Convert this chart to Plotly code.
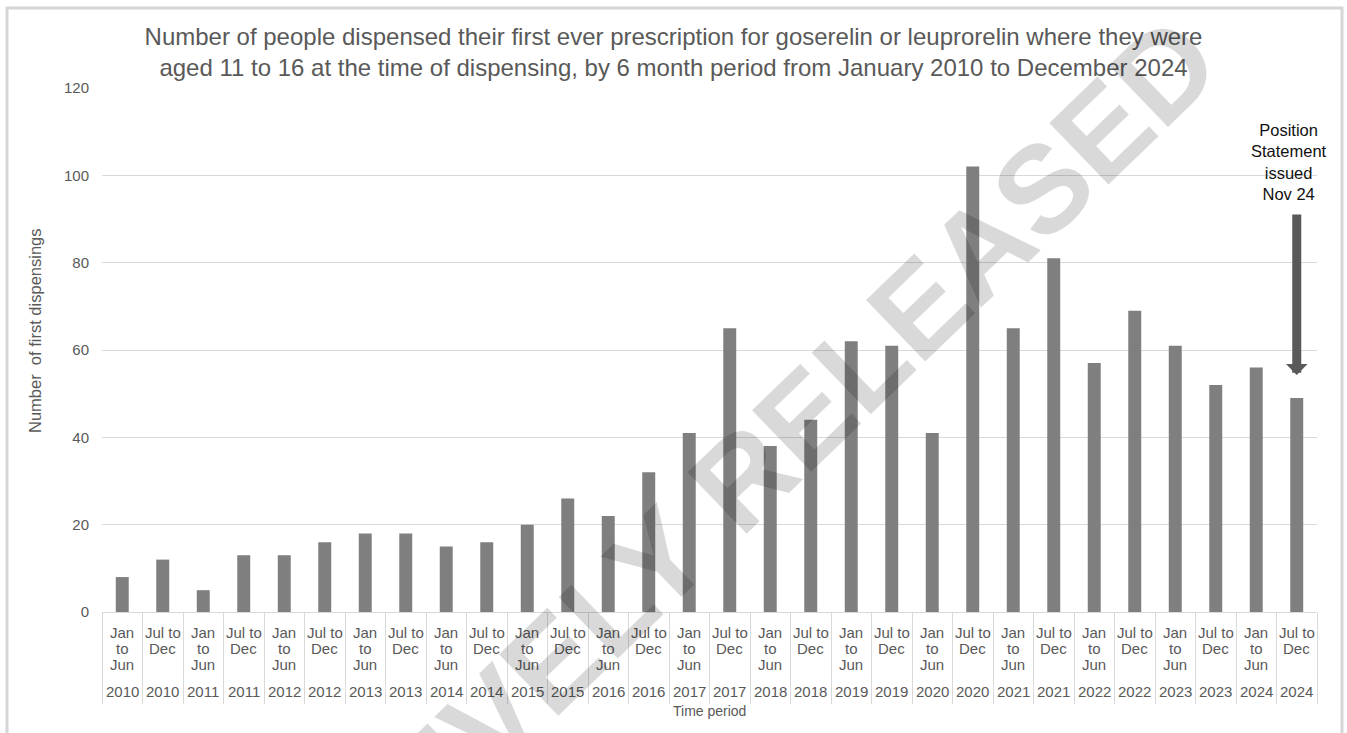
import plotly.graph_objects as go

# Half-year periods, January 2010 to December 2024
periods = ["Jan to Jun", "Jul to Dec"] * 15
years = [2010, 2010, 2011, 2011, 2012, 2012, 2013, 2013, 2014, 2014,
         2015, 2015, 2016, 2016, 2017, 2017, 2018, 2018, 2019, 2019,
         2020, 2020, 2021, 2021, 2022, 2022, 2023, 2023, 2024, 2024]
first_dispensings = [8, 12, 5, 13, 13, 16, 18, 18, 15, 16,
                     20, 26, 22, 32, 41, 65, 38, 44, 62, 61,
                     41, 102, 65, 81, 57, 69, 61, 52, 56, 49]
period_lines = {"Jan to Jun": ["Jan", "to", "Jun"], "Jul to Dec": ["Jul to", "Dec"]}
y_ticks = [0, 20, 40, 60, 80, 100, 120]

categories = [f"{p} {y}" for p, y in zip(periods, years)]

FONT = "Liberation Sans, Arial, sans-serif"
GREY_TEXT = "#595959"
LIGHT = "#d9d9d9"

W, H = 1347, 733
L, R, T, B = 102, 30, 88, 121
pw, ph = W - L - R, H - T - B


def px_x(p):
    return (p - L) / pw


def px_y(p):
    return (H - B - p) / ph


fig = go.Figure()
fig.add_trace(go.Bar(
    x=categories,
    y=first_dispensings,
    marker=dict(color="#7f7f7f", line=dict(width=0)),
    hoverinfo="x+y",
))

annotations = []
# two-level category labels: period on top, year underneath
for cat, p, yr in zip(categories, periods, years):
    for j, line in enumerate(period_lines[p]):
        annotations.append(dict(
            x=cat, y=0, xref="x", yref="paper", text=line, showarrow=False,
            yanchor="middle", yshift=-(20 + 16 * j),
            font=dict(family=FONT, size=15, color=GREY_TEXT),
        ))
    annotations.append(dict(
        x=cat, y=0, xref="x", yref="paper", text=str(yr), showarrow=False,
        yanchor="middle", yshift=-79,
        font=dict(family=FONT, size=15, color=GREY_TEXT),
    ))

# axis titles
annotations.append(dict(
    x=0.5, y=px_y(711), xref="paper", yref="paper", text="Time period",
    showarrow=False, xanchor="center", yanchor="middle",
    font=dict(family=FONT, size=14, color=GREY_TEXT),
))
annotations.append(dict(
    x=px_x(35), y=px_y(331), xref="paper", yref="paper",
    text="Number  of first dispensings", textangle=-90,
    showarrow=False, xanchor="center", yanchor="middle",
    font=dict(family=FONT, size=16.5, color=GREY_TEXT),
))

# policy marker over the final period
annotations.append(dict(
    x=categories[-1], y=(H - B - 162) / ph * 120, xref="x", yref="y",
    text="Position<br>Statement<br>issued<br>Nov 24", showarrow=False,
    xanchor="center", yanchor="middle", xshift=-8,
    font=dict(family=FONT, size=16.5, color="#111111"),
))
annotations.append(dict(
    x=categories[-1], y=54.3, xref="x", yref="y", text="",
    showarrow=True, ax=0, ay=-162, axref="pixel", ayref="pixel",
    arrowhead=1, arrowsize=0.4, arrowwidth=9, arrowcolor="#595959",
))

# diagonal watermark
annotations.append(dict(
    x=px_x(636), y=px_y(581), xref="paper", yref="paper",
    text="<b>EXCLUSIVELY RELEASED</b>", textangle=-44, showarrow=False,
    xanchor="center", yanchor="middle",
    font=dict(family=FONT, size=124, color="rgba(0,0,0,0.15)"),
))

fig.update_layout(
    width=W, height=H,
    margin=dict(l=L, r=R, t=T, b=B),
    paper_bgcolor="white", plot_bgcolor="white",
    showlegend=False,
    bargap=0.68,
    title=dict(
        text="Number of people dispensed their first ever prescription for goserelin or leuprorelin where they were<br>"
             "aged 11 to 16 at the time of dispensing, by 6 month period from January 2010 to December 2024",
        x=0.5, xref="container", xanchor="center",
        y=1 - 45 / H, yref="container", yanchor="middle",
        font=dict(family=FONT, size=24, color=GREY_TEXT),
    ),
    xaxis=dict(
        type="category", categoryorder="array", categoryarray=categories,
        showgrid=False, showticklabels=False,
        ticks="outside", tickson="boundaries", ticklen=91, tickwidth=1, tickcolor=LIGHT,
        showline=True, linecolor=LIGHT, linewidth=1,
        range=[-0.5, len(categories) - 0.5],
    ),
    yaxis=dict(
        range=[0, 120], tickvals=y_ticks, showgrid=True, gridcolor=LIGHT, gridwidth=1,
        zeroline=False, showline=False, ticks="", ticklabelstandoff=12,
        tickfont=dict(family=FONT, size=15, color=GREY_TEXT),
    ),
    annotations=annotations,
    shapes=[dict(
        type="rect", xref="paper", yref="paper",
        x0=px_x(7), x1=px_x(1342), y0=px_y(770), y1=px_y(8),
        line=dict(color="#d6d6d6", width=3), fillcolor="rgba(0,0,0,0)", layer="below",
    )],
)

fig.write_html("out.html")
